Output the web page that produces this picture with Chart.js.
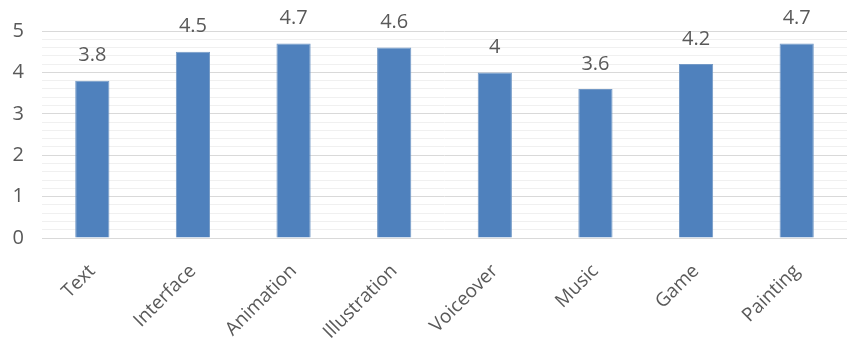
<!DOCTYPE html>
<html>
<head>
<meta charset="utf-8">
<script src="https://cdn.jsdelivr.net/npm/chart.js@4"></script>
<style>
  html, body { margin: 0; padding: 0; background: #fff; }
  #wrap { width: 847px; height: 343px; }
</style>
</head>
<body>
<div id="wrap"><canvas id="chart"></canvas></div>
<script>
// Categories and scores.
CATEGORIES = ['Text', 'Interface', 'Animation', 'Illustration', 'Voiceover', 'Music', 'Game', 'Painting'];
SCORES = [3.8, 4.5, 4.7, 4.6, 4, 3.6, 4.2, 4.7];
Y_TICKS = [0, 1, 2, 3, 4, 5];

TEXT_COLOR = '#595959';
BAR_COLOR = '#4F81BD';
FONT = '"Open Sans", sans-serif';

// Draws the value above each bar, like the spreadsheet data labels.
const valueLabels = {
    id: 'valueLabels',
    afterDatasetsDraw(chart) {
        const ctx = chart.ctx;
        const meta = chart.getDatasetMeta(0);
        ctx.save();
        ctx.font = '20px ' + FONT;
        ctx.fillStyle = TEXT_COLOR;
        ctx.textAlign = 'center';
        ctx.textBaseline = 'middle';
        meta.data.forEach(function(bar, i) {
            ctx.fillText(String(SCORES[i]), bar.x, bar.y - 25);
        });
        ctx.restore();
    }
};

const ctx = document.getElementById('chart').getContext('2d');
new Chart(ctx, {
    type: 'bar',
    data: {
        labels: CATEGORIES,
        datasets: [{
            data: SCORES,
            backgroundColor: BAR_COLOR,
            borderColor: '#7399C6',
            borderWidth: 1,
            categoryPercentage: 1,
            barPercentage: 0.34,
        }]
    },
    options: {
        responsive: true,
        maintainAspectRatio: false,
        animation: false,
        layout: { padding: { top: 31, right: 0, left: 0, bottom: 0 } },
        scales: {
            x: {
                grid: { display: false },
                border: { color: '#D9D9D9' },
                ticks: {
                    color: TEXT_COLOR,
                    font: { family: FONT, size: 19 },
                    minRotation: 45,
                    maxRotation: 45,
                    padding: 14,
                },
                afterFit: function(scale) { scale.height = 105; },
            },
            y: {
                min: 0,
                max: 5,
                ticks: {
                    stepSize: 0.2,
                    color: TEXT_COLOR,
                    font: { family: FONT, size: 20 },
                    padding: 18,
                    autoSkip: false,
                    callback: function(v) {
                        const r = Math.round(v * 10) / 10;
                        return Y_TICKS.indexOf(r) >= 0 ? String(r) : '';
                    },
                },
                grid: {
                    drawTicks: false,
                    color: function(c) {
                        const v = Math.round(c.tick.value * 10) / 10;
                        return Y_TICKS.indexOf(v) >= 0 ? '#D9D9D9' : '#F0F0F0';
                    },
                    lineWidth: 1,
                },
                border: { display: false },
                afterFit: function(scale) { scale.width = 42; },
            }
        },
        plugins: {
            legend: { display: false },
            tooltip: { enabled: false },
        },
    },
    plugins: [valueLabels],
});
</script>
</body>
</html>
